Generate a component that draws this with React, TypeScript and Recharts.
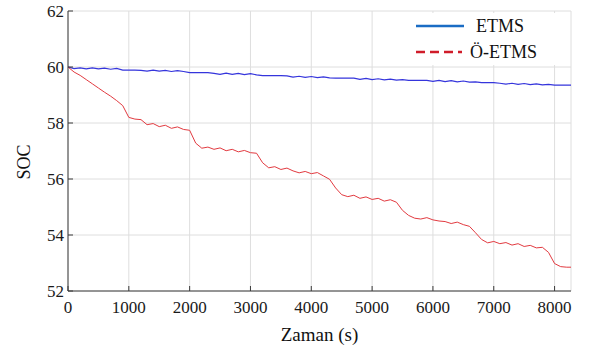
import { LineChart, Line, XAxis, YAxis, CartesianGrid, Legend } from "recharts"

// time (s)
const time = [
  0, 100, 200, 300, 400, 500, 600, 700, 800, 900,
  1000, 1100, 1200, 1300, 1400, 1500, 1600, 1700, 1800, 1900,
  2000, 2100, 2200, 2300, 2400, 2500, 2600, 2700, 2800, 2900,
  3000, 3100, 3200, 3300, 3400, 3500, 3600, 3700, 3800, 3900,
  4000, 4100, 4200, 4300, 4400, 4500, 4600, 4700, 4800, 4900,
  5000, 5100, 5200, 5300, 5400, 5500, 5600, 5700, 5800, 5900,
  6000, 6100, 6200, 6300, 6400, 6500, 6600, 6700, 6800, 6900,
  7000, 7100, 7200, 7300, 7400, 7500, 7600, 7700, 7800, 7900,
  8000, 8100, 8200, 8270,
]

const etms = [
  60.0, 59.94, 59.97, 59.93, 59.97, 59.93, 59.96, 59.92, 59.95, 59.89,
  59.89, 59.89, 59.88, 59.85, 59.89, 59.85, 59.88, 59.84, 59.87, 59.84,
  59.8, 59.8, 59.8, 59.8, 59.77, 59.74, 59.78, 59.74, 59.77, 59.73,
  59.76, 59.72, 59.69, 59.69, 59.69, 59.69, 59.68, 59.64, 59.67, 59.63,
  59.66, 59.62, 59.65, 59.61, 59.6, 59.6, 59.6, 59.6, 59.56, 59.59,
  59.55, 59.58, 59.54, 59.57, 59.53, 59.55, 59.52, 59.52, 59.52, 59.52,
  59.49, 59.52, 59.48, 59.51, 59.47, 59.5, 59.46, 59.47, 59.44, 59.44,
  59.44, 59.42, 59.39, 59.42, 59.38, 59.41, 59.37, 59.4, 59.36, 59.38,
  59.35, 59.35, 59.35, 59.35,
]

const oEtms = [
  60.0, 59.82, 59.7, 59.55, 59.4, 59.25, 59.1, 58.96, 58.8, 58.62,
  58.2, 58.14, 58.12, 57.94, 57.98, 57.87, 57.92, 57.81, 57.86, 57.77,
  57.74, 57.28, 57.1, 57.14, 57.06, 57.11, 57.01, 57.06, 56.97, 57.02,
  56.94, 56.92, 56.58, 56.4, 56.44, 56.34, 56.39, 56.29, 56.22, 56.27,
  56.19, 56.23, 56.11, 55.99, 55.68, 55.44, 55.37, 55.42, 55.31, 55.36,
  55.27, 55.31, 55.21, 55.26, 55.17, 54.88, 54.7, 54.6, 54.57, 54.62,
  54.54, 54.5, 54.48, 54.41, 54.46, 54.37, 54.31, 54.08, 53.84, 53.72,
  53.77, 53.69, 53.73, 53.64, 53.69, 53.59, 53.63, 53.54, 53.56, 53.38,
  52.98, 52.87, 52.85, 52.85,
]

const xTicks = [0, 1000, 2000, 3000, 4000, 5000, 6000, 7000, 8000]
const yTicks = [52, 54, 56, 58, 60, 62]

const data = time.map((t, i) => ({ t, etms: etms[i], oEtms: oEtms[i] }))

const font = "Liberation Serif, DejaVu Serif, serif"
const tickStyle = { fontSize: 17, fontFamily: font, fill: "#1a1a1a" }
const axisColor = "#3a3a3a"

function SocLegend() {
  return (
    <div style={{ background: "#fff", width: 162, height: 52, fontFamily: font, fontSize: 18, color: "#111" }}>
      <div style={{ display: "flex", alignItems: "center", height: 26 }}>
        <svg width={62} height={10} style={{ marginLeft: 8 }}>
          <line x1={2} y1={5} x2={50} y2={5} stroke="#1a6cc4" strokeWidth={2.5} />
        </svg>
        <span>ETMS</span>
      </div>
      <div style={{ display: "flex", alignItems: "center", height: 26 }}>
        <svg width={54} height={10} style={{ marginLeft: 8 }}>
          <line x1={2} y1={5} x2={48} y2={5} stroke="#d01c2a" strokeWidth={2.5} strokeDasharray="9 5" />
        </svg>
        <span style={{ marginLeft: 2 }}>Ö-ETMS</span>
      </div>
    </div>
  )
}

// y axis title, placed a bit below the plot middle like the original
const socLabel = () => (
  <text x={24} y={162} transform="rotate(-90 24 162)" textAnchor="middle" dominantBaseline="central"
    style={{ fontSize: 18, fontFamily: font, fill: "#111" }}>
    SOC
  </text>
)

export default function App() {
  return (
    <div style={{ position: "absolute", left: 0, top: 0, background: "#fff" }}>
      <LineChart width={601} height={349} data={data} margin={{ top: 11, right: 30, left: 8, bottom: 0 }}>
        <CartesianGrid stroke="#dedede" />
        <XAxis
          dataKey="t"
          type="number"
          domain={[0, 8270]}
          ticks={xTicks}
          height={58}
          tickSize={-5}
          tickMargin={15}
          tick={tickStyle}
          stroke={axisColor}
          label={{ value: "Zaman (s)", position: "insideBottom", offset: 8, style: { fontSize: 19, fontFamily: font, fill: "#111" } }}
        />
        <XAxis
          xAxisId="top"
          orientation="top"
          dataKey="t"
          type="number"
          domain={[0, 8270]}
          ticks={xTicks}
          height={0}
          tickSize={-5}
          tick={() => <g />}
          stroke={axisColor}
        />
        <YAxis
          type="number"
          domain={[52, 62]}
          ticks={yTicks}
          width={60}
          tickSize={-5}
          tickMargin={9}
          tick={tickStyle}
          stroke={axisColor}
          label={{ content: socLabel }}
        />
        <YAxis
          yAxisId="right"
          orientation="right"
          type="number"
          domain={[52, 62]}
          ticks={yTicks}
          width={0}
          tickSize={-5}
          tick={() => <g />}
          stroke={axisColor}
        />
        <Line type="linear" dataKey="etms" name="ETMS" stroke="#3535dc" strokeWidth={1.2} dot={false} isAnimationActive={false} />
        <Line type="linear" dataKey="oEtms" name="Ö-ETMS" stroke="#e23a40" strokeWidth={1} dot={false} isAnimationActive={false} />
        <Legend
          layout="horizontal"
          verticalAlign="middle"
          align="center"
          content={() => <SocLegend />}
          wrapperStyle={{ top: 13, left: 406, width: 162, height: 52 }}
        />
      </LineChart>
    </div>
  )
}
